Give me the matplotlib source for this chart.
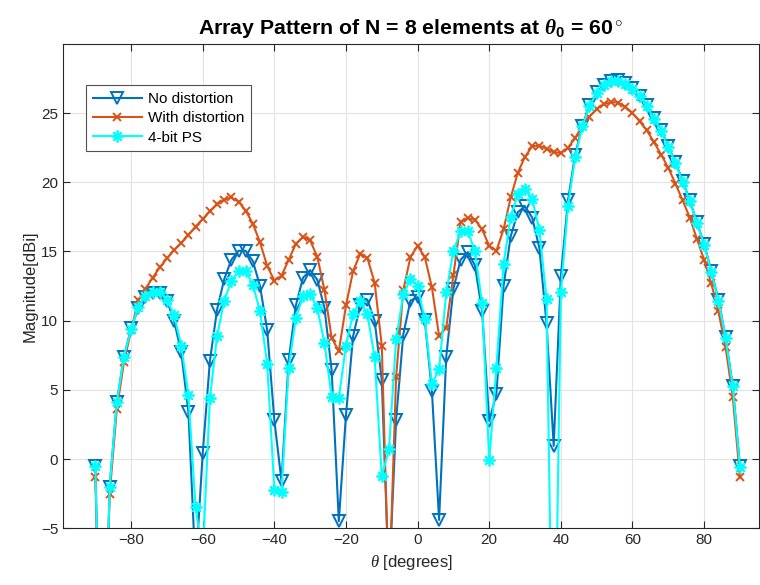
import numpy as np
import matplotlib
matplotlib.use("Agg")
from matplotlib import pyplot as plt

plt.rcParams['font.family'] = ['Liberation Sans', 'DejaVu Sans']
plt.rcParams['mathtext.fontset'] = 'custom'
plt.rcParams['mathtext.rm'] = 'Liberation Sans'
plt.rcParams['mathtext.it'] = 'Liberation Serif:italic'
plt.rcParams['mathtext.bf'] = 'Liberation Sans:bold'
plt.rcParams['mathtext.bfit'] = 'Liberation Serif:italic:bold'

theta = np.arange(-90, 91, 2)

no_dist = [-0.5, -22, -2.0, 4.1, 7.4, 9.45, 10.9, 11.7, 12.0, 12.0,
           11.45, 10.0, 7.7, 3.4, -8, 0.45, 7.1, 10.8, 13.0, 14.4,
           15.05, 15.05, 14.3, 12.5, 9.3, 2.8, -1.6, 7.15, 11.1, 13.1,
           13.65, 12.95, 10.9, 6.4, -4.5, 3.2, 8.9, 11.1, 11.5, 10.0,
           5.7, -9, 2.85, 9.0, 11.45, 11.7, 10.05, 4.9, -4.4, 7.4,
           12.3, 14.4, 14.95, 14.0, 10.7, 2.75, 4.7, 12.5, 16.1, 17.85,
           18.25, 17.45, 15.25, 9.8, 0.95, 13.2, 18.7, 22.0, 24.1, 25.55,
           26.5, 27.05, 27.35, 27.4, 27.15, 26.8, 26.25, 25.55, 24.65, 23.75,
           22.6, 21.45, 20.1, 18.7, 17.1, 15.55, 13.6, 11.5, 8.8, 5.3,
           -0.5]

with_dist = [-1.3, -22, -2.55, 3.6, 7.0, 9.3, 11.5, 12.3, 13.1, 13.85,
             14.5, 15.1, 15.6, 16.2, 16.8, 17.35, 17.9, 18.4, 18.75, 18.9,
             18.6, 17.95, 17.0, 15.65, 13.95, 12.9, 13.25, 14.4, 15.55, 16.05,
             15.8, 14.6, 12.2, 8.75, 7.8, 11.1, 13.6, 14.85, 14.5, 12.75,
             8.2, -10, 5.95, 12.2, 14.6, 15.4, 14.6, 12.4, 8.9, 9.5,
             13.3, 17.1, 17.4, 17.3, 16.6, 15.4, 15.05, 16.6, 18.9, 20.7,
             21.85, 22.6, 22.65, 22.4, 22.2, 22.1, 22.5, 23.2, 24.1, 24.75,
             25.3, 25.65, 25.8, 25.75, 25.45, 25.0, 24.4, 23.75, 22.9, 22.0,
             21.05, 19.9, 18.7, 17.45, 15.9, 14.4, 12.7, 10.67, 8.1, 4.5,
             -1.3]

ps4 = [-0.5, -22, -2.0, 4.1, 7.4, 9.4, 11.0, 11.75, 12.1, 12.1,
       11.5, 10.4, 8.2, 4.6, -3.5, -7, 4.4, 8.9, 11.45, 12.9,
       13.6, 13.6, 12.6, 10.67, 6.85, -2.2, -2.35, 6.6, 10.2, 11.75,
       11.95, 10.9, 8.35, 4.5, 4.4, 8.2, 10.5, 11.4, 10.45, 7.35,
       -1.25, 0.7, 8.65, 11.9, 13.0, 12.5, 10.1, 5.4, 6.5, 12.05,
       15.05, 16.45, 16.45, 15.05, 11.25, -0.1, 6.6, 14.1, 17.5, 19.15,
       19.5, 18.8, 16.55, 11.55, -22, 12.1, 18.3, 21.8, 24.05, 25.5,
       26.45, 27.0, 27.3, 27.35, 27.1, 26.75, 26.2, 25.5, 24.6, 23.7,
       22.55, 21.4, 20.05, 18.65, 17.05, 15.5, 13.55, 11.45, 8.75, 5.25,
       -0.55]

labels = ['No distortion', 'With distortion', '4-bit PS']

fig = plt.figure(figsize=(7.6, 5.85), dpi=100)
ax = fig.add_axes([0.083, 0.097, 0.916, 0.828])

ax.plot(theta, no_dist, color='#0072BD', lw=1.5, marker='v', ms=9,
        mfc='none', mew=1.4, label=labels[0])
ax.plot(theta, with_dist, color='#D95319', lw=1.5, marker='x', ms=6,
        mew=1.4, label=labels[1])
ax.plot(theta, ps4, color='#00FFFF', lw=1.5, marker=(8, 2, 0), ms=8.5,
        mew=1.3, label=labels[2])

ax.set_xlim(-99, 95.4)
ax.set_ylim(-5, 30)
ax.set_xticks(np.arange(-80, 81, 20))
ax.set_yticks(np.arange(-5, 26, 5))
ax.grid(True, color='#e3e3e3', lw=0.8)
ax.set_axisbelow(True)
ax.tick_params(direction='in', top=True, right=True, length=5,
               labelsize=11, color='#262626', labelcolor='#262626')
for s in ax.spines.values():
    s.set_color('#262626')
    s.set_linewidth(0.8)

ax.set_xlabel(r'$\theta$ [degrees]', fontsize=12, color='#262626', labelpad=4)
ax.set_ylabel('Magnitude[dBi]', fontsize=12, color='#262626', labelpad=2)
ax.set_title(r'Array Pattern of N = 8 elements at $\boldsymbol{\theta}_{\mathbf{0}}$ = 60$^\circ$',
             fontsize=15.3, fontweight='bold', pad=7)

leg = ax.legend(loc='upper left', bbox_to_anchor=(0.033, 0.915), fontsize=11,
                frameon=True, fancybox=False, edgecolor='#262626',
                handlelength=3.2, borderpad=0.45, labelspacing=0.35,
                handletextpad=0.4, borderaxespad=0)
leg.get_frame().set_linewidth(0.8)

fig.savefig('out.png', dpi=100)
